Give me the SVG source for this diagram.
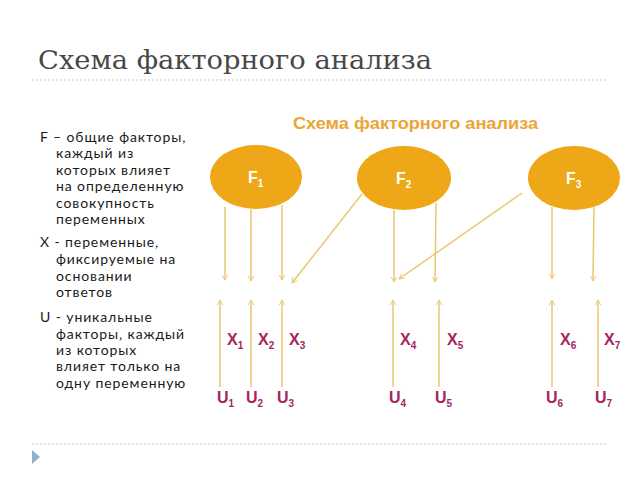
<svg xmlns="http://www.w3.org/2000/svg" width="640" height="480" viewBox="0 0 640 480">
<defs>
<style>
.title{font-family:"DejaVu Serif","Liberation Serif",serif;font-size:26px;fill:#474747}
.dot{stroke:#c8c8c8;stroke-width:1.2;stroke-dasharray:2 2}
.body{font-family:Lato,"Open Sans",sans-serif;font-size:14px;letter-spacing:0.9px;fill:#1a1a1a}
.head{font-family:"Liberation Sans",Arial,sans-serif;font-size:17px;font-weight:bold;fill:#EBA537}
.fn{fill:#EEA716}
.fl{font-family:"Liberation Sans",Arial,sans-serif;font-size:16px;font-weight:bold;fill:#fff}
.var{font-family:"Liberation Sans",Arial,sans-serif;font-size:16px;font-weight:bold;fill:#A3265E}
.sub{font-size:10px}
.ar{stroke:#E9C86E;stroke-width:1.5;fill:none;marker-end:url(#ah)}
</style>
<marker id="ah" viewBox="0 0 10 10" refX="9" refY="5" markerWidth="6" markerHeight="6" orient="auto" markerUnits="userSpaceOnUse">
<path d="M0,0 L9,5 L0,10" fill="none" stroke="#E9C86E" stroke-width="1.6"/>
</marker>
</defs>
<rect width="640" height="480" fill="#fff"/>
<text class="title" x="38" y="69" textLength="394" lengthAdjust="spacingAndGlyphs">Схема факторного анализа</text>
<line class="dot" x1="32" y1="80" x2="607" y2="80"/>
<line class="dot" x1="32" y1="444" x2="607" y2="444"/>
<path d="M32,450 L40,457 L32,464 Z" fill="#93AFC4"/>
<g id="legend">
<text class="body" x="40" y="142">F – общие факторы,</text>
<text class="body" x="56" y="158">каждый из</text>
<text class="body" x="56" y="175">которых влияет</text>
<text class="body" x="56" y="191">на определенную</text>
<text class="body" x="56" y="208">совокупность</text>
<text class="body" x="56" y="224">переменных</text>
<text class="body" x="40" y="247">X - переменные,</text>
<text class="body" x="56" y="264">фиксируемые на</text>
<text class="body" x="56" y="281">основании</text>
<text class="body" x="56" y="297">ответов</text>
<text class="body" x="40" y="322">U - уникальные</text>
<text class="body" x="56" y="339">факторы, каждый</text>
<text class="body" x="56" y="355">из которых</text>
<text class="body" x="56" y="371">влияет только на</text>
<text class="body" x="56" y="388">одну переменную</text>
</g>
<text class="head" x="293" y="129" textLength="245" lengthAdjust="spacingAndGlyphs">Схема факторного анализа</text>
<g id="F1"><ellipse class="fn" cx="256" cy="177" rx="46" ry="32"/><text class="fl" x="248" y="183">F<tspan class="sub" dy="4">1</tspan></text></g>
<g id="F2"><ellipse class="fn" cx="404" cy="178" rx="47" ry="32"/><text class="fl" x="396" y="184">F<tspan class="sub" dy="4">2</tspan></text></g>
<g id="F3"><ellipse class="fn" cx="574" cy="178" rx="46" ry="32"/><text class="fl" x="566" y="184">F<tspan class="sub" dy="4">3</tspan></text></g>
<g id="connectors">
<line class="ar" x1="225" y1="207" x2="225" y2="280"/>
<line class="ar" x1="251" y1="209" x2="251" y2="281"/>
<line class="ar" x1="282" y1="205" x2="282" y2="280"/>
<line class="ar" x1="362" y1="194" x2="292" y2="283"/>
<line class="ar" x1="394" y1="210" x2="394" y2="282"/>
<line class="ar" x1="436" y1="203" x2="435" y2="282"/>
<line class="ar" x1="522" y1="193" x2="399" y2="279"/>
<line class="ar" x1="552" y1="207" x2="552" y2="279"/>
<line class="ar" x1="594" y1="207" x2="593" y2="281"/>
<line class="ar" x1="220" y1="387" x2="220" y2="300"/>
<line class="ar" x1="251" y1="387" x2="251" y2="300"/>
<line class="ar" x1="282" y1="387" x2="282" y2="300"/>
<line class="ar" x1="393" y1="387" x2="393" y2="300"/>
<line class="ar" x1="439" y1="387" x2="439" y2="300"/>
<line class="ar" x1="552" y1="387" x2="552" y2="300"/>
<line class="ar" x1="598" y1="387" x2="598" y2="300"/>
</g>
<g id="X1"><text class="var" x="227" y="345">X<tspan class="sub" dy="4">1</tspan></text></g>
<g id="X2"><text class="var" x="258" y="345">X<tspan class="sub" dy="4">2</tspan></text></g>
<g id="X3"><text class="var" x="289" y="345">X<tspan class="sub" dy="4">3</tspan></text></g>
<g id="X4"><text class="var" x="400" y="345">X<tspan class="sub" dy="4">4</tspan></text></g>
<g id="X5"><text class="var" x="447" y="345">X<tspan class="sub" dy="4">5</tspan></text></g>
<g id="X6"><text class="var" x="560" y="345">X<tspan class="sub" dy="4">6</tspan></text></g>
<g id="X7"><text class="var" x="604" y="345">X<tspan class="sub" dy="4">7</tspan></text></g>
<g id="U1"><text class="var" x="217" y="403">U<tspan class="sub" dy="4">1</tspan></text></g>
<g id="U2"><text class="var" x="246" y="403">U<tspan class="sub" dy="4">2</tspan></text></g>
<g id="U3"><text class="var" x="277" y="403">U<tspan class="sub" dy="4">3</tspan></text></g>
<g id="U4"><text class="var" x="389" y="403">U<tspan class="sub" dy="4">4</tspan></text></g>
<g id="U5"><text class="var" x="435" y="403">U<tspan class="sub" dy="4">5</tspan></text></g>
<g id="U6"><text class="var" x="546" y="403">U<tspan class="sub" dy="4">6</tspan></text></g>
<g id="U7"><text class="var" x="595" y="403">U<tspan class="sub" dy="4">7</tspan></text></g>
</svg>
